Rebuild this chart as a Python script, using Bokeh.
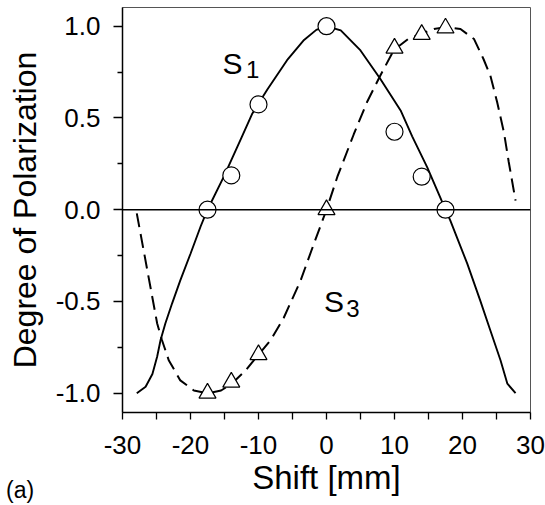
from bokeh.plotting import figure
from bokeh.models import FixedTicker, Span, Label, Range1d, Div
from bokeh.layouts import column
from bokeh.embed import file_html
from bokeh.resources import INLINE

# ---- data ----
s1_x = [-17.5, -14.0, -10.0, 0.0, 10.0, 14.0, 17.5]
s1_y = [0.0, 0.187, 0.574, 1.0, 0.425, 0.18, 0.0]

s3_x = [-17.5, -14.0, -10.0, 0.0, 10.0, 14.0, 17.5]
s3_y = [-1.0, -0.94, -0.79, 0.0, 0.88, 0.955, 0.99]

s1_curve_x = [-27.9, -26.6, -25.6, -24.9, -24.4, -23.7, -22.7, -21.5, -20.0, -18.5, -17.5,
              -15.1, -12.6, -10.9, -8.7, -5.8, -3.3, -1.5, 0.0, 2.1, 5.0, 7.9, 10.9, 12.6,
              14.8, 17.5, 18.2, 20.7, 22.6, 24.1, 25.6, 26.6, 27.8]
s1_curve_y = [-1.0, -0.965, -0.895, -0.80, -0.71, -0.62, -0.51, -0.385, -0.24, -0.09, 0.0,
              0.18, 0.385, 0.525, 0.655, 0.815, 0.925, 0.98, 1.0, 0.977, 0.868, 0.714, 0.541, 0.40,
              0.232, 0.0, -0.058, -0.294, -0.494, -0.658, -0.822, -0.948, -1.0]

s3_curve_x = [-27.9, -26.9, -25.9, -24.9, -24.2, -23.2, -21.5, -19.5, -17.5, -15.5, -14.0,
              -12.0, -10.0, -8.2, -6.3, -3.8, -1.9, 0.0, 1.6, 4.0, 6.0, 7.9, 9.9, 12.0, 14.0,
              15.8, 17.5, 19.7, 21.7, 23.1, 24.1, 25.1, 26.1, 26.8, 27.8]
s3_curve_y = [-0.02, -0.22, -0.42, -0.62, -0.71, -0.82, -0.93, -0.985, -1.0, -0.985, -0.95,
              -0.88, -0.79, -0.71, -0.59, -0.385, -0.19, 0.0, 0.18, 0.41, 0.59, 0.73, 0.87, 0.93, 0.96,
              0.985, 0.995, 0.985, 0.93, 0.82, 0.73, 0.586, 0.42, 0.26, 0.05]

x_major = [-30, -20, -10, 0, 10, 20, 30]
x_minor = [-25, -15, -5, 5, 15, 25]
y_major = [-1.0, -0.5, 0.0, 0.5, 1.0]
y_minor = [-0.75, -0.25, 0.25, 0.75]

FONT = "Liberation Sans"

p = figure(width=545, height=505,
           x_range=Range1d(-30, 30), y_range=Range1d(-1.105, 1.102),
           output_backend="svg", toolbar_location=None,
           min_border_left=122, min_border_right=15, min_border_top=7, min_border_bottom=93)

p.grid.visible = False
p.background_fill_color = "white"
p.border_fill_color = "white"
p.outline_line_color = "#555555"
p.outline_line_width = 1

p.xaxis.ticker = FixedTicker(ticks=x_major, minor_ticks=x_minor)
p.yaxis.ticker = FixedTicker(ticks=y_major, minor_ticks=y_minor)
p.yaxis.major_label_overrides = {-1.0: "-1.0", -0.5: "-0.5", 0.0: "0.0", 0.5: "0.5", 1.0: "1.0"}
p.xaxis.major_label_overrides = {v: str(v) for v in x_major}

for ax in (p.xaxis, p.yaxis):
    ax.axis_line_color = "black"
    ax.axis_line_width = 1.5
    ax.major_tick_line_color = "black"
    ax.minor_tick_line_color = "black"
    ax.major_tick_line_width = 1.3
    ax.minor_tick_line_width = 1.3
    ax.major_tick_in = 0
    ax.minor_tick_in = 0
    ax.major_label_text_font = FONT
    ax.major_label_text_font_size = "26px"
    ax.major_label_text_color = "black"
    ax.axis_label_text_font = FONT
    ax.axis_label_text_font_size = "32px"
    ax.axis_label_text_font_style = "normal"
    ax.axis_label_text_color = "black"

p.xaxis.axis_label_text_font_size = "33px"
p.xaxis.major_tick_out = 7
p.xaxis.minor_tick_out = 7
p.yaxis.major_tick_out = 9
p.yaxis.minor_tick_out = 5
p.xaxis.major_label_standoff = 16
p.yaxis.major_label_standoff = 13
p.xaxis.axis_label = "Shift [mm]"
p.yaxis.axis_label = "Degree of Polarization"
p.xaxis.axis_label_standoff = 2
p.yaxis.axis_label_standoff = 10

p.add_layout(Span(location=0, dimension="width", line_color="black", line_width=1.5))

p.line(s1_curve_x, s1_curve_y, line_color="black", line_width=1.9)
p.line(s3_curve_x, s3_curve_y, line_color="black", line_width=2.0, line_dash="14 7")

p.scatter(s1_x, s1_y, marker="circle", size=17, fill_color="white",
          line_color="black", line_width=1.2)
p.scatter(s3_x, s3_y, marker="triangle", size=17, fill_color="white",
          line_color="black", line_width=1.2)

p.add_layout(Label(x=-15.3, y=0.797, text="S", text_font=FONT, text_font_size="30px",
                   text_align="left", text_baseline="alphabetic", text_color="black"))
p.add_layout(Label(x=-11.85, y=0.764, text="1", text_font=FONT, text_font_size="24px",
                   text_align="left", text_baseline="alphabetic", text_color="black"))
p.add_layout(Label(x=-0.35, y=-0.50, text="S", text_font=FONT, text_font_size="30px",
                   text_align="left", text_baseline="alphabetic", text_color="black"))
p.add_layout(Label(x=2.9, y=-0.538, text="3", text_font=FONT, text_font_size="24px",
                   text_align="left", text_baseline="alphabetic", text_color="black"))

# panel letter, overlaid at the bottom-left corner of the figure
tag = Div(text="(a)", styles={"position": "absolute", "left": "6px", "top": "477px",
                              "font-family": FONT, "font-size": "23px", "color": "black",
                              "line-height": "normal", "margin": "0", "padding": "0",
                              "z-index": "10"})

layout = column(p, tag, spacing=0)
open("out.html", "w").write(file_html(layout, INLINE))
